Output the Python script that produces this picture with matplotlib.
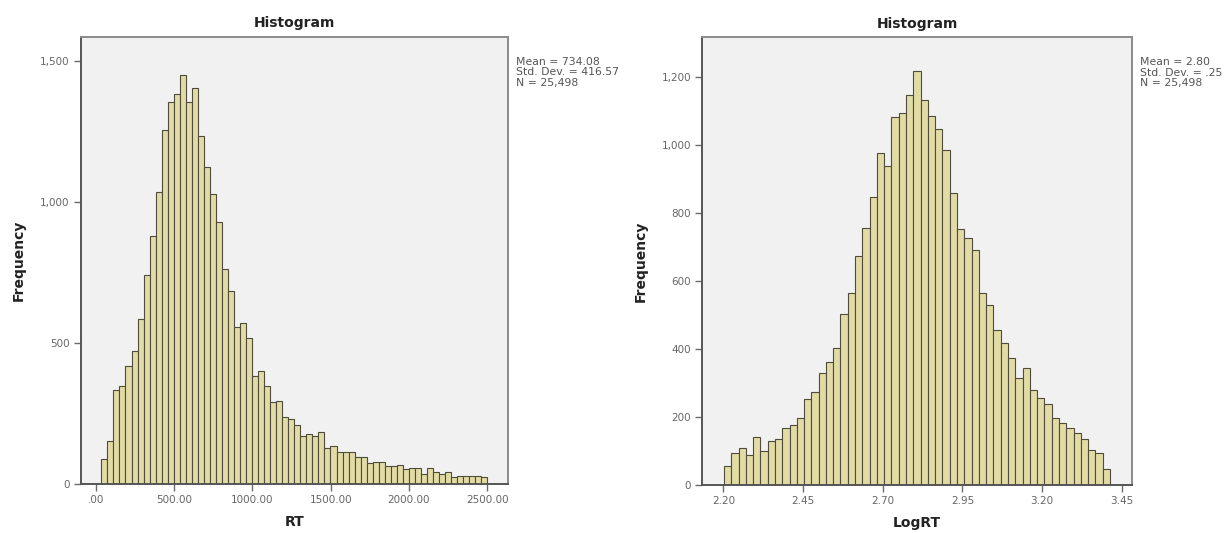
import numpy as np
import matplotlib
matplotlib.use("Agg")
import matplotlib.pyplot as plt

plt.rcParams['font.family'] = ['DejaVu Sans']

# ---- data: RT histogram ----
rt_bin_start = 36.0
rt_bin_end = 2500.0
rt_counts = [87, 153, 334, 346, 420, 470, 586, 740, 880, 1037,
             1255, 1356, 1382, 1450, 1354, 1403, 1235, 1123, 1027, 930,
             764, 686, 558, 572, 518, 384, 401, 347, 292, 294,
             239, 229, 209, 170, 176, 171, 186, 126, 135, 115,
             112, 112, 97, 95, 73, 79, 77, 64, 64, 67,
             53, 58, 57, 35, 56, 44, 35, 41, 24, 27,
             28, 30, 27, 24]
rt_xticks = [0, 500, 1000, 1500, 2000, 2500]
rt_xticklabels = ['.00', '500.00', '1000.00', '1500.00', '2000.00', '2500.00']
rt_yticks = [0, 500, 1000, 1500]
rt_yticklabels = ['0', '500', '1,000', '1,500']
rt_stats = "Mean = 734.08\nStd. Dev. = 416.57\nN = 25,498"

# ---- data: LogRT histogram ----
log_bin_start = 2.202
log_bin_end = 3.413
log_counts = [55, 94, 109, 86, 139, 99, 128, 134, 168, 175,
              197, 251, 272, 329, 361, 401, 501, 563, 673, 756,
              845, 976, 937, 1081, 1093, 1145, 1218, 1131, 1084, 1046,
              986, 859, 752, 727, 689, 563, 528, 455, 418, 372,
              313, 342, 280, 256, 236, 197, 182, 166, 151, 133,
              102, 92, 46]
log_xticks = [2.20, 2.45, 2.70, 2.95, 3.20, 3.45]
log_xticklabels = ['2.20', '2.45', '2.70', '2.95', '3.20', '3.45']
log_yticks = [0, 200, 400, 600, 800, 1000, 1200]
log_yticklabels = ['0', '200', '400', '600', '800', '1,000', '1,200']
log_stats = "Mean = 2.80\nStd. Dev. = .25\nN = 25,498"

BAR_FACE = '#e2dba6'
BAR_EDGE = '#4f4c3c'
BG = '#f1f1f1'
SPINE = '#8a8a8a'
TICKCOL = '#6a6a6a'

fig = plt.figure(figsize=(12.28, 5.33), dpi=100)
fig.patch.set_facecolor('white')


def draw(ax, start, end, counts, xticks, xtl, yticks, ytl, xlim, ylim, xlabel, stats):
    edges = np.linspace(start, end, len(counts) + 1)
    ax.bar(edges[:-1], counts, width=np.diff(edges), align='edge',
           color=BAR_FACE, edgecolor=BAR_EDGE, linewidth=0.8, zorder=2)
    ax.set_facecolor(BG)
    ax.set_xlim(*xlim)
    ax.set_ylim(*ylim)
    ax.set_xticks(xticks)
    ax.set_xticklabels(xtl)
    ax.set_yticks(yticks)
    ax.set_yticklabels(ytl)
    ax.tick_params(axis='both', colors=TICKCOL, labelsize=7.5, length=5,
                   width=1.0, labelcolor='#666666', pad=3)
    for s in ax.spines.values():
        s.set_color(SPINE)
        s.set_linewidth(1.4)
    ax.spines['left'].set_color('#555555')
    ax.spines['bottom'].set_color('#555555')
    ax.set_title('Histogram', fontsize=10, fontweight='bold', color='#222222', pad=7)
    ax.set_ylabel('Frequency', fontsize=10, fontweight='bold', color='#222222', labelpad=10)
    ax.set_xlabel(xlabel, fontsize=10, fontweight='bold', color='#222222', labelpad=7)
    ax.text(1.018, 0.955, stats, transform=ax.transAxes, ha='left', va='top',
            fontsize=7.8, color='#555555', linespacing=1.05)


ax1 = fig.add_axes([0.0657, 0.0919, 0.3482, 0.8392])
draw(ax1, rt_bin_start, rt_bin_end, rt_counts, rt_xticks, rt_xticklabels,
     rt_yticks, rt_yticklabels, (-96, 2634), (0, 1586), 'RT', rt_stats)

ax2 = fig.add_axes([0.5719, 0.0906, 0.3499, 0.8394])
draw(ax2, log_bin_start, log_bin_end, log_counts, log_xticks, log_xticklabels,
     log_yticks, log_yticklabels, (2.134, 3.482), (0, 1316), 'LogRT', log_stats)

fig.savefig('out.png', dpi=100, facecolor='white')
